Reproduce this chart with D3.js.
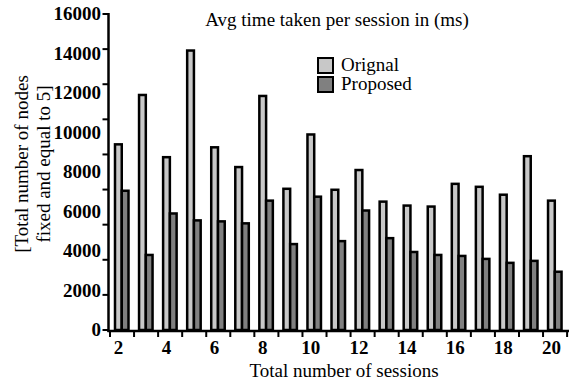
<!DOCTYPE html>
<html>
  <head>
    <title>Avg time taken per session</title>
    <script src="https://cdn.jsdelivr.net/npm/d3@7"></script>
    <style>
      body { margin: 0; background: #fff; }
      text { font-family: "Liberation Serif", "Times New Roman", serif; fill: #000; }
    </style>
  </head>
  <body>
    <svg width="569" height="383" id="mainsvg"></svg>
    <script>
        // sessions on the x axis
        const sessions = [2, 3, 4, 5, 6, 7, 8, 9, 10, 11, 12, 13, 14, 15, 16, 17, 18, 19, 20];
        const seriesNames = ['Orignal', 'Proposed'];
        // values (ms)
        const orignal = [9400, 11900, 8750, 14150, 9250, 8250, 11850, 7150, 9900, 7100,
                         8100, 6500, 6300, 6250, 7400, 7250, 6850, 8800, 6550];
        const proposed = [7050, 3800, 5900, 5550, 5500, 5400, 6550, 4350, 6750, 4500,
                          6050, 4650, 3950, 3800, 3750, 3600, 3400, 3500, 2950];
        const yTickLabels = [0, 2000, 4000, 6000, 8000, 10000, 12000, 14000, 16000];
        const xTickLabels = [2, 4, 6, 8, 10, 12, 14, 16, 18, 20];

        const colors = { Orignal: '#c8c8c8', Proposed: '#808080' };

        const svg = d3.select('#mainsvg');
        const axisX = 108.5, baseY = 331;

        const y = d3.scaleLinear().domain([0, 16000]).range([330, 14]);

        const x0 = d3.scaleBand().domain(sessions).range([110, 567.1]).padding(0);
        const x1 = d3.scaleBand().domain(seriesNames).range([5, 18.5]).padding(0);

        const rows = sessions.map((s, i) => ({ session: s, Orignal: orignal[i], Proposed: proposed[i] }));

        // bars
        const groups = svg.append('g').selectAll('g').data(rows).join('g')
          .attr('transform', d => `translate(${x0(d.session)},0)`);

        groups.selectAll('rect')
          .data(d => seriesNames.map(k => ({ key: k, value: d[k] })))
          .join('rect')
          .attr('x', d => x1(d.key))
          .attr('y', d => y(d.value))
          .attr('width', x1.bandwidth())
          .attr('height', d => y(0) - y(d.value))
          .attr('fill', d => colors[d.key])
          .attr('stroke', '#000')
          .attr('stroke-width', 2.5);

        // y axis: line, odd tick marks (9 intervals), labels (8 intervals)
        const yAxis = svg.append('g');
        yAxis.append('line')
          .attr('x1', axisX).attr('x2', axisX)
          .attr('y1', y(16000) - 1).attr('y2', baseY + 1)
          .attr('stroke', '#000').attr('stroke-width', 2.5);
        const yTickMarks = d3.range(0, 10).map(i => i * 16000 / 9);
        yAxis.selectAll('.ytick').data(yTickMarks).join('line')
          .attr('class', 'ytick')
          .attr('x1', axisX - 6).attr('x2', axisX)
          .attr('y1', d => y(d)).attr('y2', d => y(d))
          .attr('stroke', '#000').attr('stroke-width', 2);
        yAxis.selectAll('.ylab').data(yTickLabels).join('text')
          .attr('class', 'ylab')
          .attr('x', 101)
          .attr('y', d => y(d))
          .attr('dy', '0.34em')
          .attr('text-anchor', 'end')
          .attr('font-size', 19)
          .attr('font-weight', 'bold')
          .text(d => d);

        // x axis
        const xAxis = svg.append('g');
        xAxis.append('line')
          .attr('x1', axisX - 1).attr('x2', 569)
          .attr('y1', baseY).attr('y2', baseY)
          .attr('stroke', '#000').attr('stroke-width', 2.5);
        const bounds = [x0(sessions[0])].concat(sessions.map(s => x0(s) + x0.bandwidth()));
        xAxis.selectAll('.xtick').data(bounds).join('line')
          .attr('class', 'xtick')
          .attr('x1', d => d).attr('x2', d => d)
          .attr('y1', baseY).attr('y2', baseY + 6)
          .attr('stroke', '#000').attr('stroke-width', 2);
        xAxis.selectAll('.xlab').data(xTickLabels).join('text')
          .attr('class', 'xlab')
          .attr('x', d => x0(d) + x1('Orignal') + x1.bandwidth() / 2)
          .attr('y', 354)
          .attr('text-anchor', 'middle')
          .attr('font-size', 19)
          .attr('font-weight', 'bold')
          .text(d => d);

        // titles
        svg.append('text')
          .attr('x', 337).attr('y', 26)
          .attr('text-anchor', 'middle')
          .attr('font-size', 19)
          .text('Avg time taken per session in (ms)');

        svg.append('text')
          .attr('x', 344).attr('y', 377)
          .attr('text-anchor', 'middle')
          .attr('font-size', 19)
          .text('Total number of sessions');

        const yTitle = svg.append('text')
          .attr('transform', 'translate(0,164) rotate(-90)')
          .attr('text-anchor', 'middle')
          .attr('font-size', 19);
        yTitle.append('tspan').attr('x', 0).attr('y', 28).text('[Total number of nodes');
        yTitle.append('tspan').attr('x', 0).attr('y', 50).text('fixed and equal to 5]');

        // legend
        const legend = svg.append('g').attr('transform', 'translate(318,58)');
        const li = legend.selectAll('g').data(seriesNames).join('g')
          .attr('transform', (d, i) => `translate(0,${i * 19})`);
        li.append('rect')
          .attr('width', 15).attr('height', 15)
          .attr('fill', d => colors[d])
          .attr('stroke', '#000').attr('stroke-width', 2);
        li.append('text')
          .attr('x', 23).attr('y', 13)
          .attr('font-size', 19)
          .text(d => d);
    </script>
  </body>
</html>
